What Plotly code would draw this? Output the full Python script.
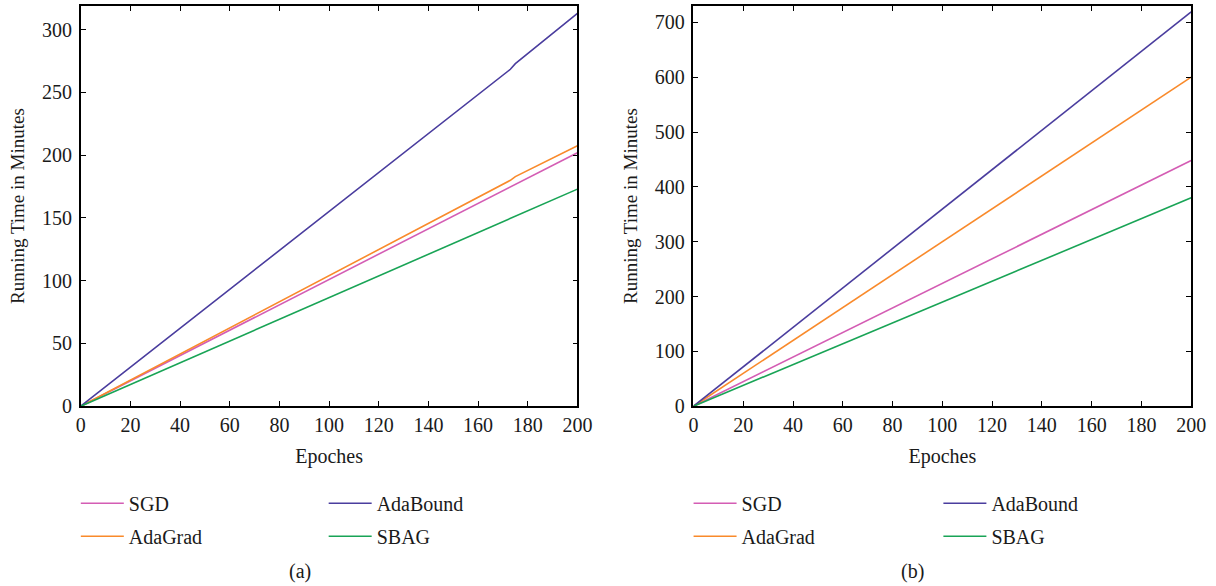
import plotly.graph_objects as go

# Epoch checkpoints and running time (minutes) for experiment (a)
epochs_a = [0, 20, 40, 60, 80, 100, 120, 140, 160, 173, 175, 200]
sgd_a = [0, 20.2, 40.4, 60.6, 80.8, 101.0, 121.2, 141.4, 161.6, 174.7, 176.7, 202.0]
adagrad_a = [0, 20.8, 41.6, 62.4, 83.2, 104.0, 124.8, 145.6, 166.4, 180.0, 183.0, 207.5]
adabound_a = [0, 31.0, 62.0, 93.0, 124.0, 155.0, 186.0, 217.0, 248.0, 268.5, 273.0, 313.0]
sbag_a = [0, 17.3, 34.6, 51.9, 69.2, 86.5, 103.8, 121.1, 138.4, 149.6, 151.4, 173.0]

# Epoch checkpoints and running time (minutes) for experiment (b)
epochs_b = [0, 20, 40, 60, 80, 100, 120, 140, 160, 180, 200]
sgd_b = [0, 44.8, 89.6, 134.4, 179.2, 224.0, 268.8, 313.6, 358.4, 403.2, 448.0]
adagrad_b = [0, 60.0, 120.0, 180.0, 240.0, 300.0, 360.0, 420.0, 480.0, 540.0, 600.0]
adabound_b = [0, 71.9, 143.8, 215.7, 287.6, 359.5, 431.4, 503.3, 575.2, 647.1, 719.0]
sbag_b = [0, 38.0, 76.0, 114.0, 152.0, 190.0, 228.0, 266.0, 304.0, 342.0, 380.0]

x_ticks = [0, 20, 40, 60, 80, 100, 120, 140, 160, 180, 200]
y_ticks_a = [0, 50, 100, 150, 200, 250, 300]
y_ticks_b = [0, 100, 200, 300, 400, 500, 600, 700]

names = ["SGD", "AdaGrad", "AdaBound", "SBAG"]
colors = {"SGD": "#D45DB4", "AdaGrad": "#F98A2B", "AdaBound": "#4A3D9E", "SBAG": "#19A456"}

FONT = "Liberation Serif"
FS = 20
INK = "#1a1a1a"

fig = go.Figure()

series_a = {"SGD": sgd_a, "AdaGrad": adagrad_a, "AdaBound": adabound_a, "SBAG": sbag_a}
series_b = {"SGD": sgd_b, "AdaGrad": adagrad_b, "AdaBound": adabound_b, "SBAG": sbag_b}

# legend assignment: left column (SGD, AdaGrad), right column (AdaBound, SBAG)
legend_a = {"SGD": "legend", "AdaGrad": "legend", "AdaBound": "legend2", "SBAG": "legend2"}
legend_b = {"SGD": "legend3", "AdaGrad": "legend3", "AdaBound": "legend4", "SBAG": "legend4"}

for n in names:
    fig.add_trace(go.Scatter(
        x=epochs_a, y=series_a[n], mode="lines", name=n,
        line=dict(color=colors[n], width=1.6),
        xaxis="x", yaxis="y", legend=legend_a[n], legendgroup="a" + n,
    ))
for n in names:
    fig.add_trace(go.Scatter(
        x=epochs_b, y=series_b[n], mode="lines", name=n,
        line=dict(color=colors[n], width=1.6),
        xaxis="x2", yaxis="y2", legend=legend_b[n], legendgroup="b" + n,
    ))

W, H = 1216, 586


def px_x(p):
    return p / W


def px_y(p):
    return (H - p) / H


axis_common = dict(
    showline=True, linecolor="black", linewidth=1.6, mirror="ticks",
    ticks="inside", ticklen=5, tickwidth=1.3, tickcolor="black",
    showgrid=False, zeroline=False,
    tickfont=dict(family=FONT, size=FS, color=INK),
)

fig.update_layout(
    width=W, height=H,
    margin=dict(l=0, r=0, t=0, b=0),
    paper_bgcolor="white", plot_bgcolor="white",
    font=dict(family=FONT, size=FS, color=INK),
    xaxis=dict(domain=[px_x(77), px_x(582)], range=[0, 200], tickvals=x_ticks,
               anchor="y", title=dict(text="Epoches", standoff=14,
                                      font=dict(family=FONT, size=FS, color=INK)),
               ticklabelstandoff=0, **axis_common),
    yaxis=dict(domain=[px_y(414), px_y(6)], range=[0, 319], tickvals=y_ticks_a,
               anchor="x", title=dict(text="Running Time in Minutes", standoff=12,
                                      font=dict(family=FONT, size=19, color=INK)),
               ticklabelstandoff=3, **axis_common),
    xaxis2=dict(domain=[px_x(700), px_x(1206)], range=[0, 200], tickvals=x_ticks,
                anchor="y2", title=dict(text="Epoches", standoff=14,
                                        font=dict(family=FONT, size=FS, color=INK)),
                ticklabelstandoff=0, **axis_common),
    yaxis2=dict(domain=[px_y(414), px_y(6)], range=[0, 730], tickvals=y_ticks_b,
                anchor="x2", title=dict(text="Running Time in Minutes", standoff=12,
                                        font=dict(family=FONT, size=19, color=INK)),
                ticklabelstandoff=3, **axis_common),
    showlegend=True,
)

legend_style = dict(
    orientation="v", xanchor="left", yanchor="top",
    font=dict(family=FONT, size=FS, color=INK),
    bgcolor="rgba(0,0,0,0)", tracegroupgap=4, itemwidth=43,
)
fig.update_layout(
    legend=dict(x=px_x(72), y=px_y(493), **legend_style),
    legend2=dict(x=px_x(324), y=px_y(493), **legend_style),
    legend3=dict(x=px_x(695), y=px_y(493), **legend_style),
    legend4=dict(x=px_x(949), y=px_y(493), **legend_style),
)

fig.add_annotation(text="(a)", x=px_x(300), y=px_y(582), xref="paper", yref="paper",
                   xanchor="center", yanchor="middle",
                   showarrow=False, font=dict(family=FONT, size=FS, color=INK))
fig.add_annotation(text="(b)", x=px_x(923), y=px_y(582), xref="paper", yref="paper",
                   xanchor="center", yanchor="middle",
                   showarrow=False, font=dict(family=FONT, size=FS, color=INK))

fig.write_html("out.html")
